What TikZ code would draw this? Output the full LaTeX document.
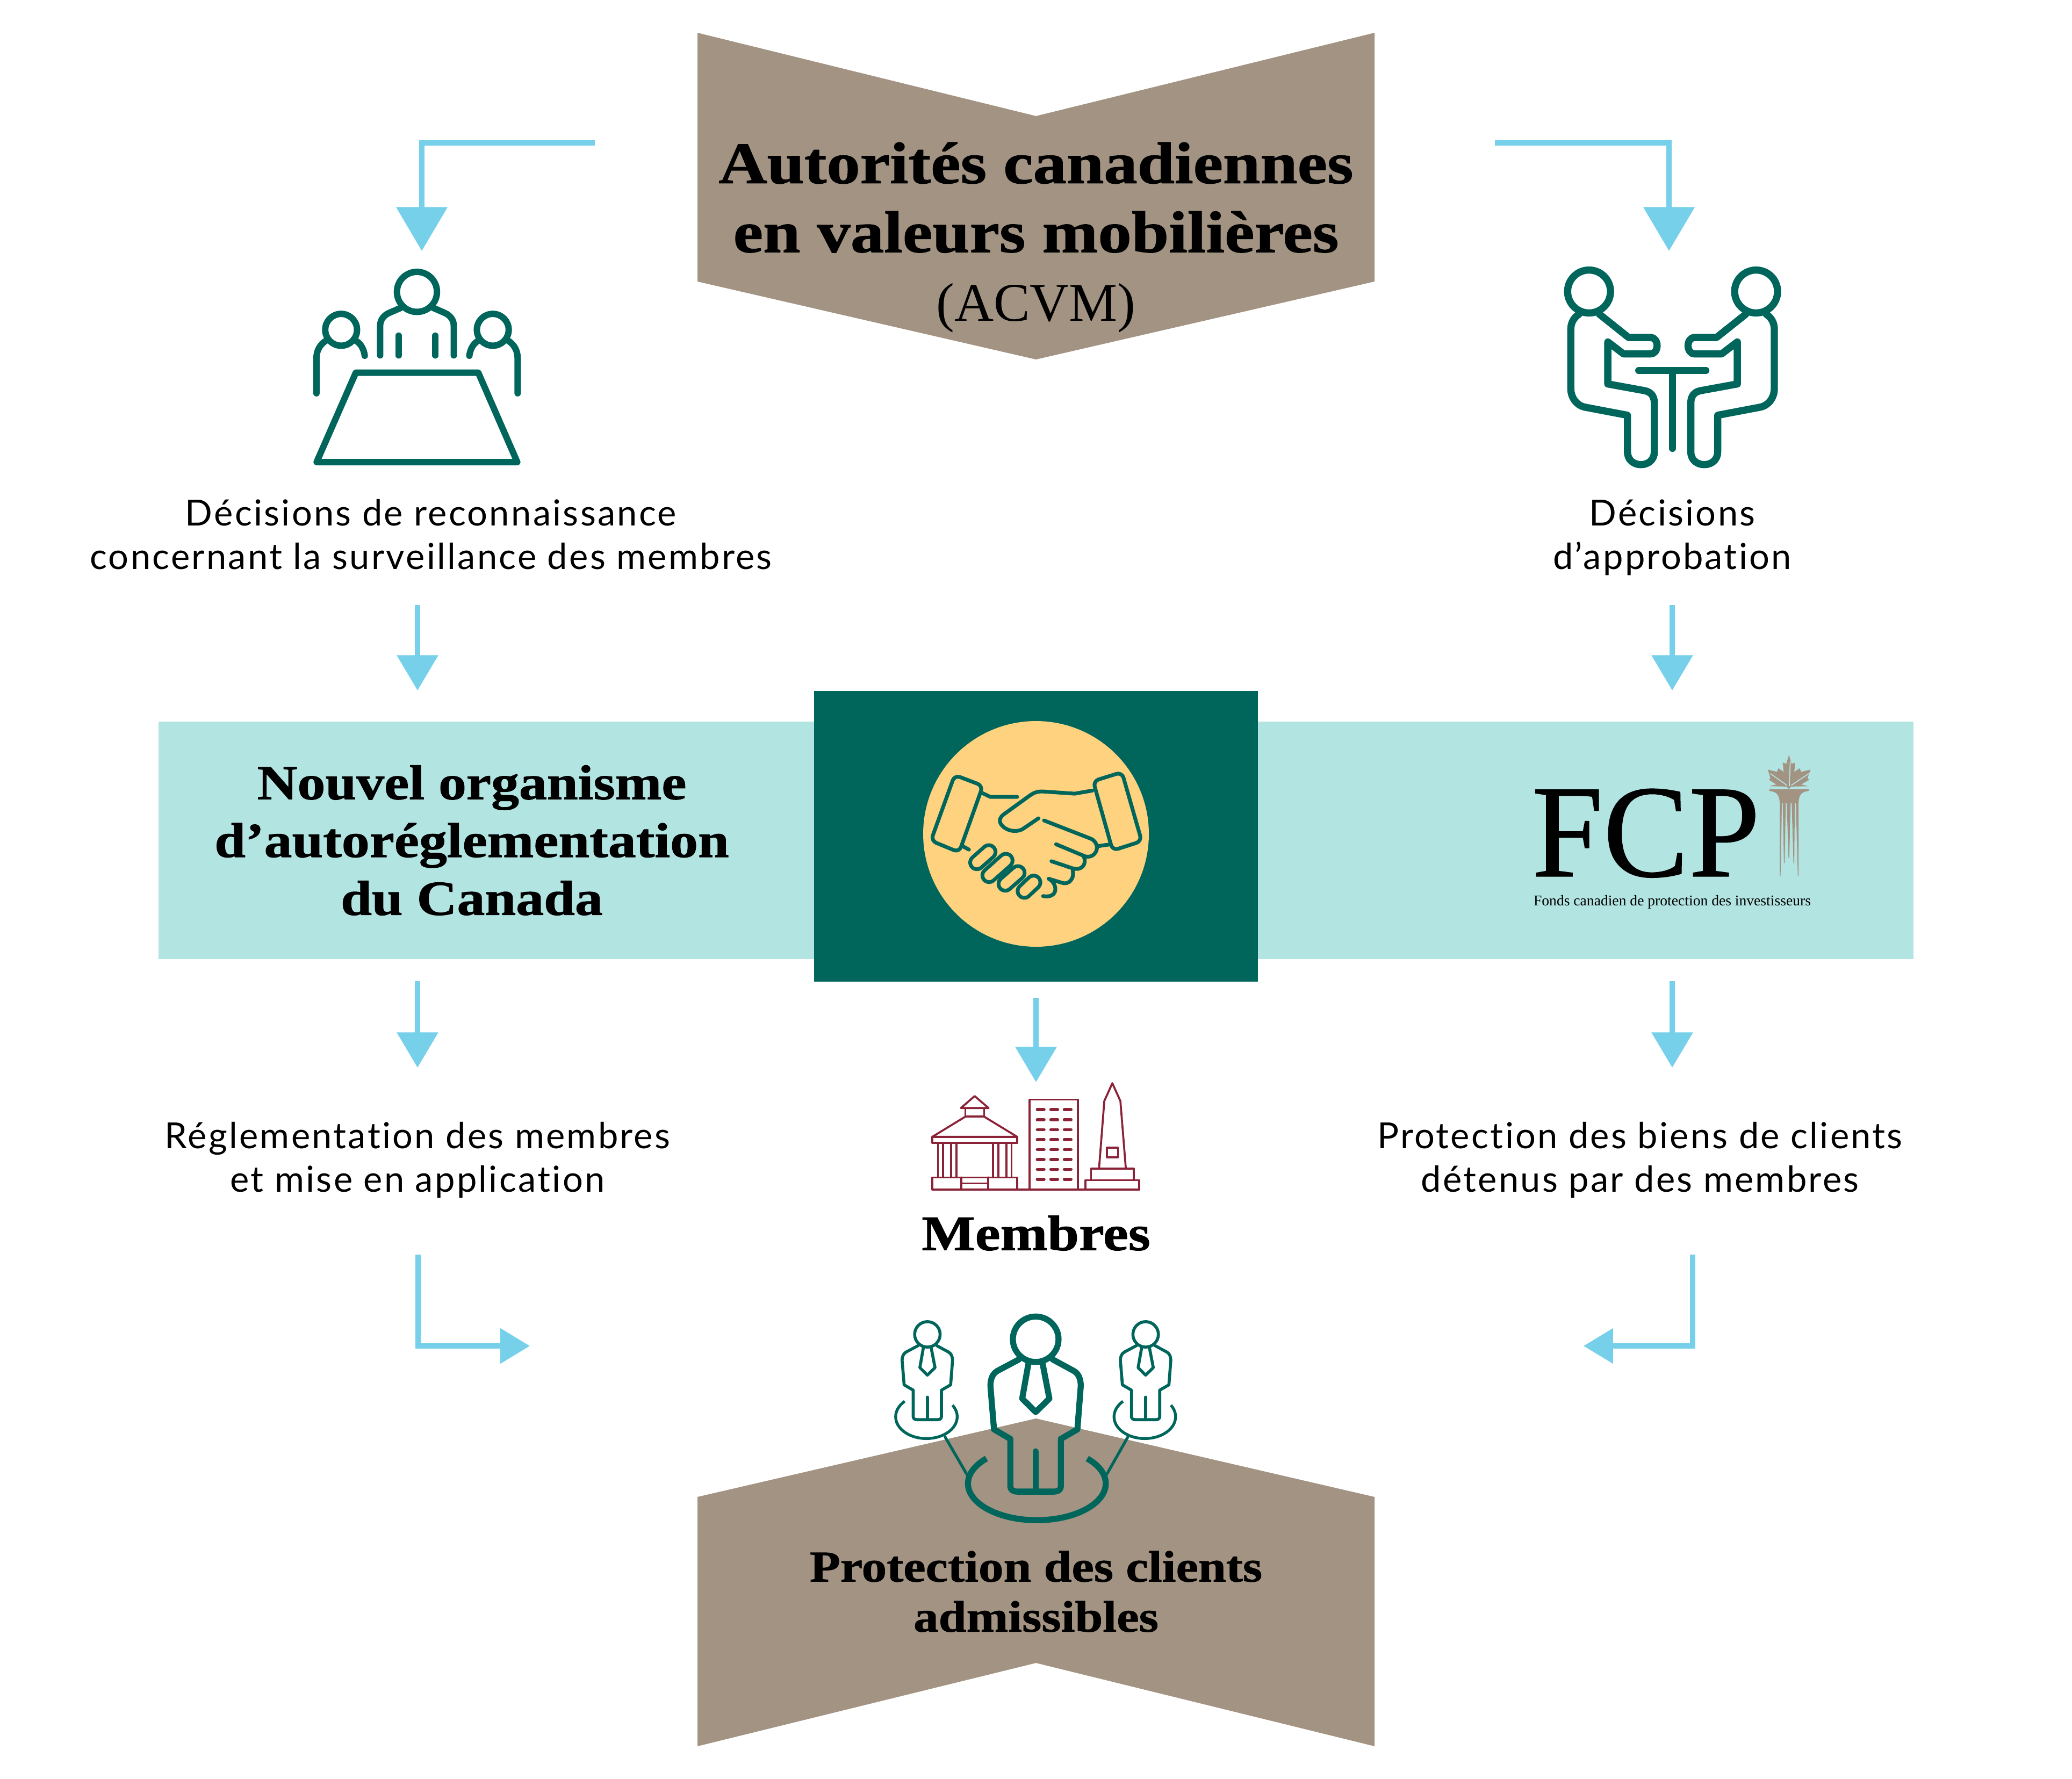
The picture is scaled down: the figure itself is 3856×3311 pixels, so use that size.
\documentclass[tikz,border=0pt]{standalone}
\usepackage{fontspec}
\usepackage{xcolor}
\usetikzlibrary{arrows.meta,positioning}
\setmainfont{Lato}
\newfontfamily\bodyfont[LetterSpace=4.9,Ligatures=NoCommon]{Lato}
\newfontfamily\headfont[BoldFeatures={FakeStretch=1.14,FakeBold=1.1}]{Liberation Serif}
\newfontfamily\logofont{Liberation Serif}
\newfontfamily\logobigfont[FakeBold=0.5,FakeStretch=0.97]{Liberation Serif}
\definecolor{csagreen}{HTML}{00665C}
\definecolor{chevron}{HTML}{A39382}
\definecolor{bandteal}{HTML}{B2E4E2}
\definecolor{flowblue}{HTML}{76D0EA}
\definecolor{shakeyellow}{HTML}{FFD27F}
\definecolor{maroon}{HTML}{8B2338}
\tikzset{
  flow/.style={draw=flowblue,line width=2.75pt,-{Triangle[length=23.2pt,width=26.6pt]}},
  flowsmall/.style={draw=flowblue,line width=2.75pt,-{Triangle[length=18.7pt,width=21.4pt]}},
  flowtiny/.style={draw=flowblue,line width=2.75pt,-{Triangle[length=15.6pt,width=18.1pt]}},
  bodytext/.style={align=center,inner sep=0pt,font=\bodyfont\fontsize{19}{23}\selectfont},
  headbig/.style={align=center,inner sep=0pt,font=\headfont\fontsize{31.1}{36.5}\selectfont},
  headmid/.style={align=center,inner sep=0pt,font=\headfont\bfseries\fontsize{25.9}{30.6}\selectfont},
  headmemb/.style={align=center,inner sep=0pt,font=\headfont\bfseries\fontsize{26.3}{30}\selectfont},
  headsmall/.style={align=center,inner sep=0pt,font=\headfont\bfseries\fontsize{23.25}{26.5}\selectfont},
  icon/.style={draw=csagreen,line cap=round,line join=round},
  building/.style={draw=maroon,line cap=round,line join=round,line width=1.05pt},
}
\newcommand{\sitterfig}{
  \draw[icon] (232,218) circle[radius=120];
  \draw[icon] (175,345) .. controls (145,365) and (130,395) .. (130,430) -- (130,760)
    .. controls (130,810) and (160,855) .. (210,865) -- (447,910) -- (447,1115)
    .. controls (447,1210) and (597,1210) .. (597,1115) -- (597,840)
    .. controls (597,800) and (575,778) .. (540,772) -- (337,735) -- (337,500)
    -- (425,567) -- (575,567) .. controls (625,567) and (625,475) .. (575,475)
    -- (453,475) -- (290,345);
}
\newcommand{\clientfig}{
  \draw[icon] (778,218) circle[x radius=115,y radius=127];
  \draw[icon] (695,330) -- (585,395) .. controls (560,412) and (550,440) .. (550,480)
    -- (568,722) -- (650,775) -- (650,1040) .. controls (650,1060) and (665,1070) .. (685,1070)
    -- (870,1070) .. controls (890,1070) and (905,1060) .. (905,1040) -- (905,775)
    -- (988,722) -- (1005,480) .. controls (1005,440) and (995,412) .. (970,395) -- (862,330);
  \draw[icon] (778,845) -- (778,1060);
  \draw[icon] (742,350) -- (710,550) -- (778,625) -- (847,550) -- (812,350);
}

\begin{document}
\begin{tikzpicture}[x=0.01cm,y=-0.01cm]
  \useasboundingbox (0,0) rectangle (3856,3311);

  % Chevrons
  \fill[chevron] (1298,61) -- (1928,216) -- (2558,61) -- (2558,524) -- (1928,669) -- (1298,524) -- cycle;
  \fill[chevron] (1298,2786) -- (1928,2640) -- (2558,2786) -- (2558,3250) -- (1928,3095) -- (1298,3250) -- cycle;

  % Band
  \fill[bandteal] (295,1343) rectangle (3561,1785);
  \fill[csagreen] (1515,1286) rectangle (2341,1827);
  \fill[shakeyellow] (1928,1552) circle[radius=210];

  % Authorities
  \node[headbig] (acvm) at (1928,442) {\bfseries Autorités canadiennes\\\bfseries en valeurs mobilières\\{\fontsize{28.8}{36.5}\selectfont (ACVM)}};

  % Decisions
  \node[bodytext] (recog) at (802,995) {Décisions de reconnaissance\\concernant la surveillance des membres};
  \node[bodytext] (approv) at (3112,1000) {Décisions\\d’approbation};

  % Middle row
  \node[headmid] (ocrcu) at (878,1564) {Nouvel organisme\\d’autoréglementation\\du Canada};
  \node[inner sep=0pt,font=\logobigfont\fontsize{70}{70}\selectfont,anchor=base west] (fcp) at (2850,1631) {FCP};
  \node[inner sep=0pt,font=\logofont\fontsize{7.85}{9}\selectfont,anchor=base] (fcpname) at (3112,1685) {Fonds canadien de protection des investisseurs};

  % Duties
  \node[bodytext] (regul) at (777,2159) {Réglementation des membres\\et mise en application};
  \node[bodytext] (protect) at (3052,2159) {Protection des biens de clients\\détenus par des membres};
  \node[headmemb] (membres) at (1928,2295) {Membres};
  \node[headsmall] (clients) at (1928,2962) {Protection des clients\\admissibles};

  % Connector ends
  \coordinate (tl0) at (1107,266);
  \coordinate (tl1) at (785,266);
  \coordinate (tl2) at (785,467);
  \coordinate (tr0) at (2782,266);
  \coordinate (tr1) at (3106,266);
  \coordinate (tr2) at (3106,467);
  \coordinate (dl0) at (777,1126);
  \coordinate (dl1) at (777,1285);
  \coordinate (dr0) at (3112,1126);
  \coordinate (dr1) at (3112,1285);
  \coordinate (ml0) at (777,1826);
  \coordinate (ml1) at (777,1987);
  \coordinate (mc0) at (1928,1857);
  \coordinate (mc1) at (1928,2014);
  \coordinate (mr0) at (3112,1826);
  \coordinate (mr1) at (3112,1987);
  \coordinate (bl0) at (778,2335);
  \coordinate (bl1) at (778,2505);
  \coordinate (bl2) at (986,2505);
  \coordinate (br0) at (3150,2335);
  \coordinate (br1) at (3150,2505);
  \coordinate (br2) at (2947,2505);

  % Flows
  \draw[flow] (tl0) -- (tl1) -- (tl2);
  \draw[flow] (tr0) -- (tr1) -- (tr2);
  \draw[flowsmall] (dl0) -- (dl1);
  \draw[flowsmall] (dr0) -- (dr1);
  \draw[flowsmall] (ml0) -- (ml1);
  \draw[flowsmall] (mc0) -- (mc1);
  \draw[flowsmall] (mr0) -- (mr1);
  \draw[flowtiny] (bl0) -- (bl1) -- (bl2);
  \draw[flowtiny] (br0) -- (br1) -- (br2);

  % Meeting table
  \begin{scope}[shift={(540,470)},x=0.00333cm,y=-0.00333cm,line width=3.4pt]
    \draw[icon] (709,220) circle[radius=112];
    \draw[icon] (503,575) -- (503,410) .. controls (503,375) and (525,350) .. (555,337) -- (617,310);
    \draw[icon] (915,575) -- (915,410) .. controls (915,375) and (893,350) .. (863,337) -- (801,310);
    \draw[icon] (606,465) -- (606,575);
    \draw[icon] (812,465) -- (812,575);
    \draw[icon] (285,432) circle[radius=89];
    \draw[icon] (147,787) -- (147,590) .. controls (147,545) and (170,510) .. (205,490);
    \draw[icon] (370,495) .. controls (395,510) and (412,540) .. (417,577);
    \draw[icon] (1133,432) circle[radius=89];
    \draw[icon] (1272,787) -- (1272,590) .. controls (1272,545) and (1249,510) .. (1214,490);
    \draw[icon] (1049,495) .. controls (1024,510) and (1007,540) .. (1002,577);
    \draw[icon] (367,672) -- (1052,672) -- (1270,1172) -- (148,1172) -- cycle;
  \end{scope}

  % Two people at a table
  \begin{scope}[shift={(2880,470)},x=0.00333cm,y=-0.00333cm,line width=3.8pt]
    \sitterfig
    \draw[icon] (510,660) -- (885,660);
    \draw[icon] (698,660) -- (698,1095);
  \end{scope}
  \begin{scope}[shift={(3345.3,470)},x=-0.00333cm,y=-0.00333cm,line width=3.8pt]
    \sitterfig
  \end{scope}

  % Handshake
  \begin{scope}[shift={(1660,1320)},x=0.003444cm,y=-0.00333cm,line width=2pt]
    \foreach \xa/\ya/\xb/\yb in {714/1017/764/968,611/977/679/915,524/929/614/846,458/857/522/798} {
      \draw[draw=csagreen,line cap=round,line width=9.1pt] (\xa,\ya) -- (\xb,\yb);
      \draw[draw=shakeyellow,line cap=round,line width=5.1pt] (\xa,\ya) -- (\xb,\yb);
    }
    \draw[icon,rounded corners=3pt] (338,368) -- (490,428) -- (362,800) -- (210,735) -- cycle;
    \draw[icon,rounded corners=3pt] (1240,352) -- (1085,402) -- (1190,790) -- (1347,738) -- cycle;
    \draw[icon] (490,470) -- (530,490) -- (675,490);
    \draw[icon] (1080,455) -- (985,472) -- (815,460) .. controls (780,458) and (760,470) .. (740,485)
      -- (600,590) .. controls (570,615) and (580,645) .. (610,665) .. controls (640,685) and (680,685) .. (705,670) -- (790,610);
    \draw[icon] (820,622) -- (1075,725) .. controls (1105,740) and (1115,780) .. (1095,805)
      .. controls (1080,825) and (1055,830) .. (1035,820) -- (885,755);
    \draw[icon] (1035,825) .. controls (1050,860) and (1030,905) .. (975,890) -- (860,850);
    \draw[icon] (975,905) .. controls (985,950) and (950,985) .. (915,970) -- (845,948);
    \draw[icon] (845,948) .. controls (895,975) and (900,1060) .. (815,1045);
    \draw[icon] (380,765) -- (415,785);
    \draw[icon] (1115,765) -- (1180,755);
  \end{scope}

  % Buildings
  \begin{scope}[shift={(1700,2000)},x=0.00333cm,y=-0.00333cm]
    \draw[building] (265,187) -- (342,120) -- (420,187) -- cycle;
    \draw[building] (290,187) -- (290,235) -- (395,235) -- (395,187);
    \draw[building] (290,235) -- (105,348) -- (580,348) -- (395,235);
    \draw[building] (105,348) rectangle (580,382);
    \foreach \colx in {137,165,210,240,445,475,520,548}
      \draw[building] (\colx,382) -- (\colx,575);
    \draw[building] (105,575) rectangle (580,642);
    \draw[building] (268,575) -- (268,642);
    \draw[building] (417,575) -- (417,642);
    \draw[building] (268,608) -- (417,608);
    \draw[building] (580,642) -- (1262,642);
    \draw[building] (650,140) rectangle (920,642);
    \foreach \winy in {196,252,308,363,419,475,530,586}
      \foreach \winx in {692,768,843}
        \draw[building,line width=1.6pt] (\winx,\winy) -- +(38,0);
    \draw[building] (1038,520) -- (1067,148) -- (1112,48) -- (1157,148) -- (1187,520);
    \draw[building] (1082,408) rectangle (1143,462);
    \draw[building] (993,590) -- (993,525) -- (1232,525) -- (1232,590);
    \draw[building] (962,590) rectangle (1262,642);
  \end{scope}

  % Clients
  \begin{scope}[shift={(1640,2420)},x=0.0037cm,y=-0.00333cm,line width=3.2pt]
    \clientfig
    \draw[icon,line cap=butt] (530,885) arc[start angle=223,end angle=-43,x radius=347,y radius=205];
    \draw[icon,line width=1.5pt] (322,765) -- (432,975);
    \draw[icon,line width=1.5pt] (1242,765) -- (1135,975);
    \draw[icon,line width=1.5pt,line cap=butt] (118,565) arc[start angle=225,end angle=-32,x radius=155,y radius=122];
    \draw[icon,line width=1.5pt,line cap=butt] (1218,565) arc[start angle=225,end angle=-32,x radius=155,y radius=122];
  \end{scope}
  \begin{scope}[shift={(1565.5,2442.9)},x=0.00206cm,y=-0.001857cm,line width=1.6pt]
    \clientfig
  \end{scope}
  \begin{scope}[shift={(1971.7,2442.9)},x=0.00206cm,y=-0.001857cm,line width=1.6pt]
    \clientfig
  \end{scope}

  % Leaf and column
  \begin{scope}[shift={(2820,1380)},x=0.0037cm,y=-0.00333cm]
    \fill[chevron] (1378,75) -- (1392,125) -- (1410,118) -- (1405,170) -- (1432,150) -- (1440,170) -- (1487,157)
      -- (1472,205) -- (1480,215) -- (1440,240) -- (1475,250) -- (1390,252) -- (1378,265) -- (1366,252) -- (1280,250)
      -- (1315,240) -- (1278,215) -- (1285,205) -- (1272,157) -- (1318,170) -- (1325,150) -- (1352,170) -- (1347,118)
      -- (1365,125) -- cycle;
    \draw[bandteal,line width=0.5pt] (1380,250) -- (1385,110);
    \draw[bandteal,line width=0.5pt] (1390,245) -- (1478,180);
    \draw[bandteal,line width=0.5pt] (1368,245) -- (1285,180);
    \fill[chevron] (1280,267) -- (1478,267) -- (1478,277) .. controls (1440,280) and (1428,300) .. (1427,345)
      -- (1332,345) .. controls (1330,300) and (1318,280) .. (1280,277) -- cycle;
    \foreach \xa/\xb/\tipx/\tipy in {1332/1343/1334/752,1347/1362/1355/680,1367/1387/1378/652,1392/1408/1403/680,1413/1427/1425/752}
      \fill[chevron] (\xa,340) -- (\xb,340) -- (\tipx+2,\tipy) -- (\tipx-2,\tipy) -- cycle;
  \end{scope}
\end{tikzpicture}
\end{document}
